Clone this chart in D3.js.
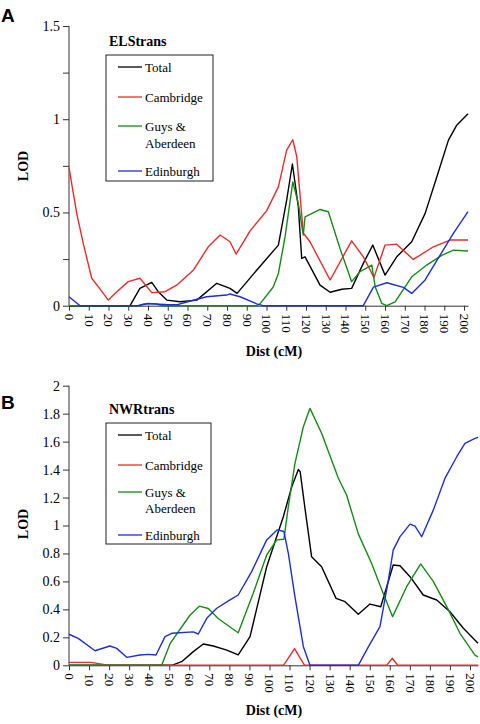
<!DOCTYPE html>
<html><head><meta charset="utf-8">
<script src="https://cdn.jsdelivr.net/npm/d3@7"></script>
<style>body{margin:0;background:#fff}svg{display:block}</style>
</head><body>
<script>
// ---------- DATA ----------
const seriesNames = ["Total", "Cambridge", "Guys &\nAberdeen", "Edinburgh"];
const seriesColors = ["#000000", "#ec2a2a", "#178a17", "#1c2fd6"];
const xTicks = d3.range(0, 201, 10);

// Panel A: ELStrans  [Dist cM, LOD]
const elsTotal = [[0,0],[30.9,0],[35.9,0.093],[41.9,0.125],[45.2,0.075],[49.5,0.03],[56.2,0.021],[64.7,0.03],[74.8,0.12],[81.5,0.093],[85.1,0.066],[95,0.19],[106,0.325],[110.2,0.566],[113.1,0.76],[116.1,0.53],[117.8,0.254],[119.5,0.262],[127.1,0.11],[132.2,0.072],[138.1,0.088],[143.1,0.093],[149,0.227],[153.8,0.325],[160,0.164],[165.9,0.262],[173.5,0.343],[180.3,0.495],[186.2,0.69],[192.1,0.888],[196.3,0.968],[202,1.03]];
const elsCambridge = [[0,0.74],[3.9,0.495],[7.2,0.334],[11.5,0.147],[14.8,0.102],[19.9,0.03],[24.2,0.075],[30,0.129],[35.9,0.147],[41.9,0.07],[48.6,0.075],[54.5,0.11],[62.9,0.19],[70.5,0.316],[76.5,0.379],[81.5,0.343],[84.6,0.277],[91.6,0.4],[100.1,0.51],[106,0.637],[110.2,0.834],[113.3,0.89],[115.3,0.8],[118.6,0.39],[122,0.343],[132.2,0.138],[143.1,0.348],[149,0.262],[154.4,0.152],[160,0.325],[165.9,0.33],[174.3,0.248],[184.5,0.316],[192.9,0.352],[202,0.352]];
const elsGuys = [[0,0],[35,0],[38,0.01],[44,0.01],[47,0],[95,0],[96.7,0.01],[103.4,0.1],[106,0.173],[109.4,0.37],[113.3,0.664],[116.1,0.548],[118.6,0.379],[119.5,0.477],[127.1,0.516],[131.3,0.504],[137.2,0.307],[143.1,0.129],[147.3,0.182],[153.3,0.218],[155,0.102],[158.3,0.013],[160.9,0],[165.1,0.02],[173.5,0.155],[181.1,0.218],[188.7,0.27],[194.6,0.298],[202,0.293]];
const elsEdinburgh = [[0,0.048],[5.6,0],[35,0],[40,0.012],[50,0.005],[55,0.006],[59.6,0.02],[69.7,0.048],[79.8,0.057],[81.5,0.063],[86.6,0.048],[95,0.01],[98.2,0],[149,0],[154.1,0.1],[160.9,0.123],[169.3,0.098],[173.5,0.066],[180.3,0.138],[187.8,0.27],[194.6,0.388],[202,0.504]];

// Panel B: NWRtrans  [Dist cM, LOD]
const nwrTotal = [[0,0],[51.2,0],[56.2,0.026],[62,0.098],[67,0.152],[72,0.138],[78.7,0.109],[84.4,0.074],[90.3,0.205],[98.6,0.705],[106.9,1.063],[111.1,1.277],[114.4,1.4],[115.3,1.385],[117.7,1.122],[121,0.777],[126,0.705],[133.2,0.479],[137.7,0.455],[144.3,0.365],[150.1,0.438],[155.5,0.419],[161.7,0.717],[165.1,0.712],[170.1,0.634],[176.7,0.503],[183.4,0.467],[190,0.383],[196.7,0.265],[204,0.157]];
const nwrCambridge = [[0,0.021],[10.7,0.021],[15.7,0.01],[19.1,0],[107,0],[112.5,0.12],[117.5,0],[158.5,0],[161.2,0.05],[164,0],[204,0]];
const nwrGuys = [[0,0],[46.2,0],[50.4,0.155],[56.2,0.274],[60.3,0.358],[65,0.423],[69.5,0.406],[74.4,0.335],[80.3,0.274],[84.4,0.233],[91.9,0.515],[98.6,0.789],[103.6,0.897],[107.2,0.902],[109.4,1.135],[112.7,1.445],[116.9,1.707],[120.2,1.838],[126,1.66],[134.3,1.34],[138.5,1.216],[144.3,0.94],[150.9,0.73],[156,0.54],[161.4,0.348],[168.4,0.562],[175.4,0.725],[181.7,0.6],[188.4,0.42],[195,0.229],[202.5,0.073],[204,0.06]];
const nwrEdinburgh = [[0,0.222],[4.6,0.193],[13,0.104],[20.4,0.138],[23.8,0.121],[28.8,0.057],[35.4,0.074],[39.6,0.078],[43.4,0.074],[47.9,0.205],[51.2,0.229],[62,0.239],[64.5,0.224],[68.7,0.336],[73.7,0.408],[80.3,0.468],[84.4,0.503],[91.1,0.67],[98.6,0.897],[103.9,0.969],[107.2,0.957],[109.4,0.8],[112.7,0.49],[116.9,0.133],[120.2,0],[144.3,0],[149.3,0.132],[155.1,0.276],[159.3,0.61],[161.7,0.824],[165.1,0.92],[170.1,1.01],[172.6,0.996],[175.9,0.92],[181.7,1.11],[187.5,1.337],[193.4,1.492],[197.5,1.587],[202.5,1.623],[204,1.63]];

const yTicksA = d3.range(0, 1.51, 0.25);
const yTicksB = d3.range(0, 2.01, 0.2);

// ---------- DRAW ----------
const W = 480, H = 724;
const svg = d3.select("body").append("svg").attr("width", W).attr("height", H);
const serif = "'Liberation Serif', 'Times New Roman', serif";

function panel(cfg) {
  const x = d3.scaleLinear().domain([0, cfg.xMax]).range([69, cfg.right]);
  const y = d3.scaleLinear().domain([0, cfg.yMax]).range([cfg.bottom, cfg.top]);
  const g = svg.append("g");

  // y axis
  const ya = g.append("g").attr("transform", "translate(69,0)")
    .call(d3.axisLeft(y).tickValues(cfg.yTicks).tickSize(6).tickPadding(3)
      .tickFormat(d => cfg.labelY(d) ? d3.format("~g")(+d.toFixed(2)) : ""));
  ya.attr("font-family", null).style("font-family", serif);
  ya.select(".domain").attr("stroke", "#333").attr("d", `M0,${cfg.top}V${cfg.bottom}`);
  ya.selectAll(".tick line").attr("stroke", "#333");
  ya.selectAll("text").style("font-family", serif).attr("font-size", 14).attr("fill", "#000");

  // x axis
  const xa = g.append("g").attr("transform", `translate(0,${cfg.bottom})`)
    .call(d3.axisBottom(x).tickValues(xTicks).tickSize(5).tickSizeOuter(0).tickFormat(d3.format("d")));
  xa.attr("font-family", null).style("font-family", serif);
  xa.select(".domain").attr("stroke", "#333");
  xa.selectAll(".tick line").attr("stroke", "#333");
  xa.selectAll("text")
    .style("font-family", serif).attr("font-size", 13).attr("fill", "#000")
    .attr("text-anchor", "start")
    .attr("transform", "rotate(90)")
    .attr("x", 8).attr("y", 0).attr("dy", "0.35em");

  // lines
  const line = d3.line().x(d => x(d[0])).y(d => y(d[1]));
  cfg.series.forEach((s, i) => {
    g.append("path").datum(s).attr("fill", "none")
      .attr("stroke", seriesColors[i]).attr("stroke-width", 1.4)
      .attr("stroke-linejoin", "round").attr("d", line);
  });

  // axis titles
  g.append("text").attr("x", 274).attr("y", cfg.bottom + 50)
    .attr("text-anchor", "middle").style("font-family", serif)
    .attr("font-weight", "bold").attr("font-size", 14).text("Dist (cM)");
  g.append("text").attr("transform", `translate(28,${cfg.lodY}) rotate(-90)`)
    .attr("text-anchor", "middle").style("font-family", serif)
    .attr("font-weight", "bold").attr("font-size", 14).text("LOD");

  // panel letter
  g.append("text").attr("x", 1).attr("y", cfg.letterY)
    .style("font-family", "'Liberation Sans', Arial, sans-serif").attr("font-weight", "bold")
    .attr("font-size", 19).text(cfg.letter);

  // legend
  g.append("text").attr("x", 109).attr("y", cfg.titleY)
    .style("font-family", serif).attr("font-weight", "bold").attr("font-size", 14).text(cfg.title);
  g.append("rect").attr("x", cfg.box[0]).attr("y", cfg.box[1])
    .attr("width", cfg.box[2]).attr("height", cfg.box[3])
    .attr("fill", "#fff").attr("stroke", "#222").attr("stroke-width", 1);
  seriesNames.forEach((name, i) => {
    const ry = cfg.rows[i];
    g.append("line").attr("x1", 118).attr("x2", 142).attr("y1", ry).attr("y2", ry)
      .attr("stroke", seriesColors[i]).attr("stroke-width", 1.3);
    const t = g.append("text").attr("x", 145).attr("y", ry + 4.5)
      .style("font-family", serif).attr("font-size", 13);
    name.split("\n").forEach((part, k) => {
      t.append("tspan").attr("x", 145).attr("dy", k === 0 ? 0 : cfg.lineGap).text(part);
    });
  });
}

panel({
  letter: "A", letterY: 22, title: "ELStrans", titleY: 46,
  xMax: 202, right: 468, yMax: 1.5, top: 26, bottom: 305.7,
  yTicks: yTicksA, labelY: d => Math.abs(d * 2 - Math.round(d * 2)) < 1e-6,
  series: [elsTotal, elsCambridge, elsGuys, elsEdinburgh],
  box: [106, 55, 107, 126], rows: [67, 97, 126, 171], lineGap: 17, lodY: 166
});

panel({
  letter: "B", letterY: 409, title: "NWRtrans", titleY: 414,
  xMax: 204, right: 478, yMax: 2, top: 385.7, bottom: 665.3,
  yTicks: yTicksB, labelY: d => true,
  series: [nwrTotal, nwrCambridge, nwrGuys, nwrEdinburgh],
  box: [106, 423, 105, 121], rows: [435, 465, 492, 535], lineGap: 16, lodY: 524
});
</script>
</body></html>
